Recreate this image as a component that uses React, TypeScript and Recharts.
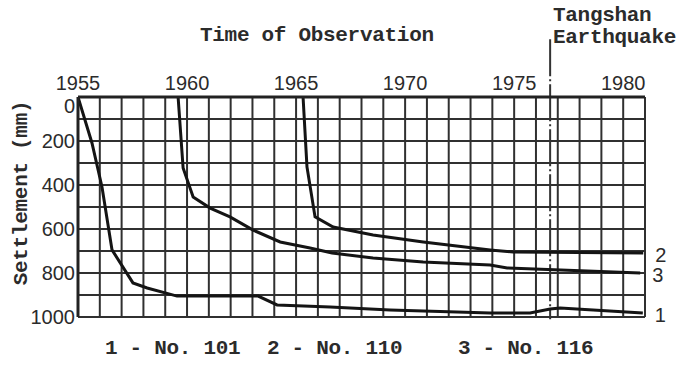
import { CartesianGrid, Line, LineChart, ReferenceLine, XAxis, YAxis } from "recharts";

// tick labels
const yearLabels = [1955, 1960, 1965, 1970, 1975, 1980];
const settlementLabels = [0, 200, 400, 600, 800, 1000];
// grid lines (one per year / per 100 mm)
const gridYears = [
  1955, 1956, 1957, 1958, 1959, 1960, 1961, 1962, 1963, 1964, 1965, 1966, 1967, 1968,
  1969, 1970, 1971, 1972, 1973, 1974, 1975, 1976, 1977, 1978, 1979, 1980, 1981,
];
const gridSettlement = [0, 100, 200, 300, 400, 500, 600, 700, 800, 900, 1000];

const earthquakeYear = 1976.65;

// 1 - No. 101
const no101Years = [
  1955.0, 1955.64, 1956.1, 1956.56, 1957.52, 1958.17, 1959.54, 1963.26, 1964.13, 1966.56,
  1969.31, 1973.9, 1975.73, 1976.65, 1977.11, 1980.9,
];
const no101Settlement = [0, 209, 409, 695, 845, 868, 905, 905, 945, 955, 968, 982, 982, 964, 959, 982];

// 2 - No. 110
const no110Years = [1965.32, 1965.5, 1965.87, 1966.7, 1968.53, 1970.83, 1973.9, 1974.95, 1980.92];
const no110Settlement = [0, 318, 545, 591, 627, 659, 695, 705, 709];

// 3 - No. 116
const no116Years = [
  1959.59, 1959.82, 1960.28, 1961.06, 1961.97, 1963.03, 1964.27, 1965.64, 1966.65, 1968.53,
  1970.83, 1973.9, 1974.68, 1980.78,
];
const no116Settlement = [0, 323, 455, 505, 545, 605, 659, 686, 709, 732, 750, 764, 777, 800];

const seriesNumbers = ["1", "2", "3"];
const seriesNames = ["No. 101", "No. 110", "No. 116"];

const zip = (xs: number[], ys: number[]) => xs.map((year, i) => ({ year, settlement: ys[i] }));
const seriesData = [
  zip(no101Years, no101Settlement),
  zip(no110Years, no110Settlement),
  zip(no116Years, no116Settlement),
];

const MONO = '"Liberation Mono", "DejaVu Sans Mono", monospace';
const NUM = '"Liberation Sans", Arial, sans-serif';
const INK = "#2b2b2b";

const YearTick = ({ x, payload }: any) =>
  yearLabels.includes(payload.value) ? (
    <text x={x} y={90} textAnchor="middle" fontFamily={NUM} fontSize={20} fill={INK}>
      {payload.value}
    </text>
  ) : null;

const SettlementTick = ({ x, y, payload }: any) =>
  settlementLabels.includes(payload.value) ? (
    <text
      x={x + 5}
      y={y + (payload.value === 0 ? 16 : 7)}
      textAnchor="end"
      fontFamily={NUM}
      fontSize={20}
      fill={INK}
    >
      {payload.value}
    </text>
  ) : null;

const endLabel = (num: string, last: number) => (props: any) => {
  if (props.index !== last) return null;
  return (
    <text
      x={props.x + 12}
      y={props.y + 9}
      fontFamily={NUM}
      fontSize={20}
      fill={INK}
    >
      {num}
    </text>
  );
};

export default function App() {
  return (
    <div style={{ position: "absolute", left: 0, top: 0, width: 688, height: 366, background: "#fff" }}>
      <LineChart width={688} height={366} margin={{ top: 57, right: 43, bottom: 49, left: 8 }}>
        <CartesianGrid stroke="#303030" strokeWidth={2} ticks={undefined} />
        <XAxis
          type="number"
          dataKey="year"
          orientation="top"
          domain={[1955, 1981]}
          ticks={gridYears}
          interval={0}
          height={40}
          tickLine={false}
          axisLine={{ stroke: "#222", strokeWidth: 3 }}
          tick={<YearTick />}
          allowDataOverflow
        />
        <YAxis
          type="number"
          dataKey="settlement"
          reversed
          domain={[0, 1000]}
          ticks={gridSettlement}
          interval={0}
          width={70}
          tickLine={false}
          axisLine={{ stroke: "#222", strokeWidth: 3 }}
          tick={<SettlementTick />}
          allowDataOverflow
        />
        <ReferenceLine
          segment={[
            { x: earthquakeYear, y: -262 },
            { x: earthquakeYear, y: 1010 },
          ]}
          ifOverflow="visible"
          stroke="#333"
          strokeWidth={2}
          strokeDasharray="37 3 2 3"
        />
        {seriesData.map((data, i) => (
          <Line
            key={seriesNames[i]}
            data={data}
            dataKey="settlement"
            type="linear"
            stroke="#141414"
            strokeWidth={3}
            dot={false}
            label={endLabel(seriesNumbers[i], data.length - 1)}
            isAnimationActive={false}
          />
        ))}
      </LineChart>

      <div
        style={{
          position: "absolute",
          left: 0,
          top: 0,
          width: 688,
          height: 366,
          pointerEvents: "none",
          fontFamily: MONO,
          fontWeight: 700,
          fontSize: 21,
          letterSpacing: -0.3,
          color: INK,
        }}
      >
        <div style={{ position: "absolute", left: 200, top: 26, lineHeight: "20px", whiteSpace: "pre" }}>
          Time of Observation
        </div>
        <div style={{ position: "absolute", left: 553, top: 5, lineHeight: "22px", whiteSpace: "pre" }}>
          Tangshan
          <br />
          Earthquake
        </div>
        <div
          style={{
            position: "absolute",
            left: 22,
            top: 193,
            transform: "translate(-50%, -50%) rotate(-90deg)",
            whiteSpace: "pre",
            lineHeight: "20px",
          }}
        >
          Settlement (mm)
        </div>
        {seriesNames.map((name, i) => (
          <div
            key={name}
            style={{ position: "absolute", left: [105, 267, 458][i], top: 339, lineHeight: "20px", whiteSpace: "pre" }}
          >
            {`${seriesNumbers[i]} - ${name}`}
          </div>
        ))}
      </div>
    </div>
  );
}
